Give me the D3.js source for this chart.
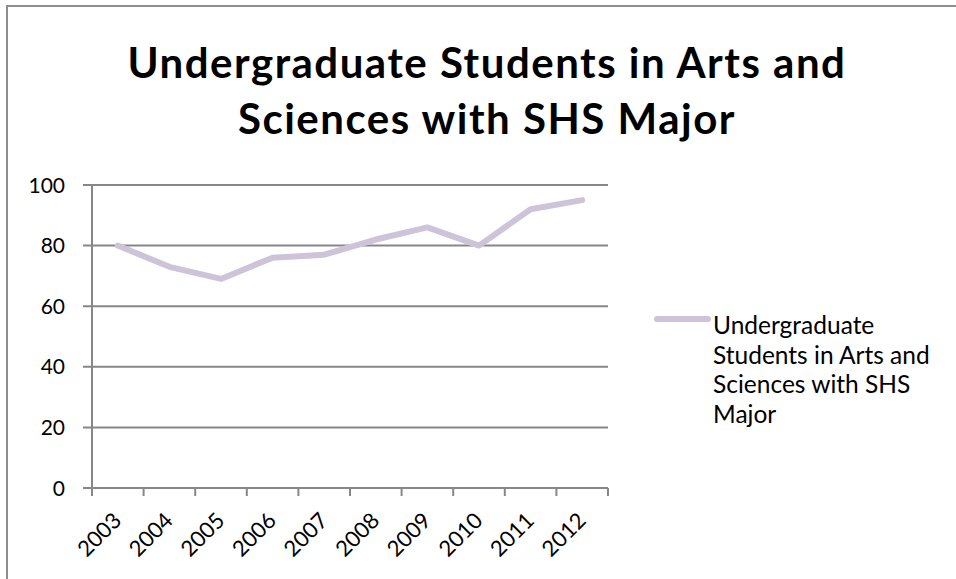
<!DOCTYPE html>
<html><head><meta charset="utf-8">
<script src="https://cdn.jsdelivr.net/npm/d3@7"></script>
<style>body{margin:0;background:#fff;} svg{display:block;font-family:Lato,"Open Sans",sans-serif;}</style>
</head><body>
<script>
const years = ["2003","2004","2005","2006","2007","2008","2009","2010","2011","2012"];
const values = [80,73,69,76,77,82,86,80,92,95];
const yTicks = [0,20,40,60,80,100];
const titleLines = ["Undergraduate Students in Arts and","Sciences with SHS Major"];
const legendLines = ["Undergraduate","Students in Arts and","Sciences with SHS","Major"];

const W=956,H=579;
const svg=d3.select("body").append("svg").attr("width",W).attr("height",H);
svg.append("rect").attr("width",W).attr("height",H).attr("fill","#fff");
// outer border (left and top)
svg.append("path").attr("d",`M7,${H} V6 H${W}`).attr("fill","none").attr("stroke","#8e8e8e").attr("stroke-width",2);

const x=d3.scaleBand().domain(years).range([92,608]);
const y=d3.scaleLinear().domain([0,100]).range([488,185]);
const gridC="#878787";

// gridlines
svg.append("g").selectAll("line").data(yTicks).join("line")
  .attr("x1",83).attr("x2",608).attr("y1",d=>y(d)).attr("y2",d=>y(d))
  .attr("stroke",gridC).attr("stroke-width",2);
// y axis line
svg.append("line").attr("x1",92).attr("x2",92).attr("y1",y(100)).attr("y2",y(0)+1).attr("stroke",gridC).attr("stroke-width",2);
// x ticks
const xt=[...years.map(d=>x(d)),608];
svg.append("g").selectAll("line").data(xt).join("line")
  .attr("x1",d=>d).attr("x2",d=>d).attr("y1",y(0)).attr("y2",y(0)+8)
  .attr("stroke",gridC).attr("stroke-width",2);

// y labels
svg.append("g").selectAll("text").data(yTicks).join("text")
  .attr("x",65).attr("y",d=>y(d)).attr("dy","0.36em").attr("text-anchor","end")
  .attr("font-size",21).attr("fill","#000").text(d=>d);
// x labels
svg.append("g").selectAll("text").data(years).join("text")
  .attr("transform",d=>`translate(${x(d)+x.bandwidth()/2+5},${522}) rotate(-45)`)
  .attr("text-anchor","end")
  .attr("font-size",22).attr("fill","#000").text(d=>d);

// line
svg.append("path").datum(values.map((v,i)=>[years[i],v]))
  .attr("d",d3.line().x(d=>x(d[0])+x.bandwidth()/2).y(d=>y(d[1])))
  .attr("fill","none").attr("stroke","#cdc4da").attr("stroke-width",6)
  .attr("stroke-linecap","round").attr("stroke-linejoin","round");

// title
svg.append("g").selectAll("text").data(titleLines).join("text")
  .attr("x",487).attr("y",(d,i)=>78+i*56).attr("text-anchor","middle")
  .attr("font-size",42).attr("font-weight","bold").attr("letter-spacing","1.5px").attr("fill","#000").text(d=>d);

// legend
svg.append("line").attr("x1",657).attr("x2",708).attr("y1",319).attr("y2",319)
  .attr("stroke","#cdc4da").attr("stroke-width",6).attr("stroke-linecap","round");
svg.append("g").selectAll("text").data(legendLines).join("text")
  .attr("x",713).attr("y",(d,i)=>334+i*29.5)
  .attr("font-size",24.5).attr("fill","#000").text(d=>d);
</script>
</body></html>
